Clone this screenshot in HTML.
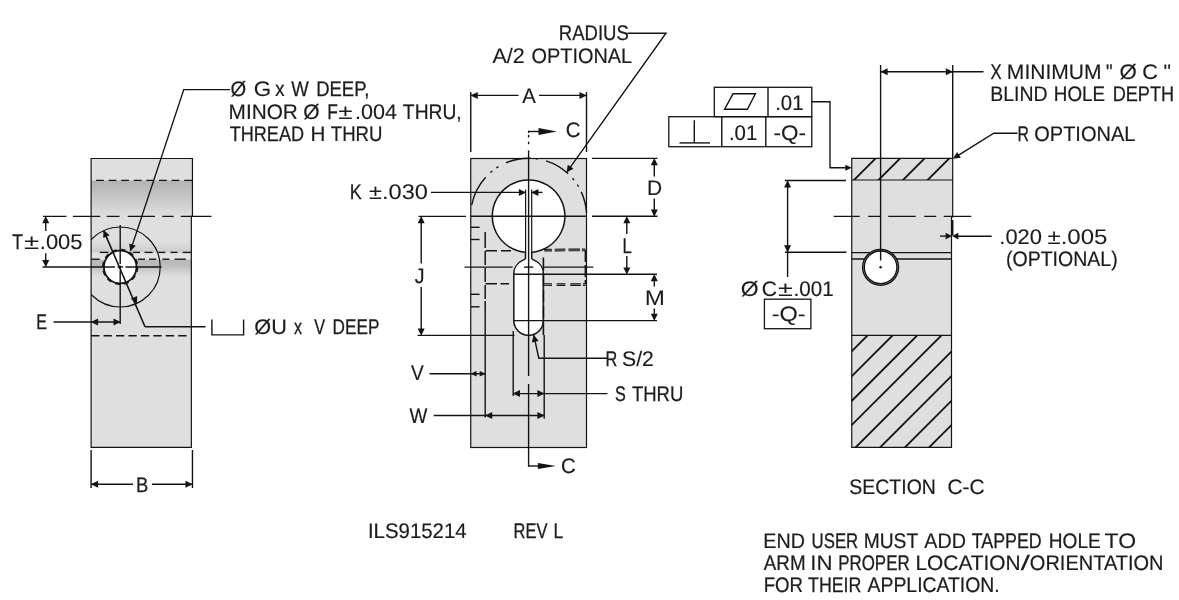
<!DOCTYPE html>
<html lang="en">
<head>
<meta charset="utf-8">
<title>ILS915214 REV L</title>
<style>
html,body{margin:0;padding:0;background:#ffffff;}
body{width:1179px;height:600px;overflow:hidden;}
svg{display:block;font-family:"Liberation Sans",sans-serif;font-size:21.1px;filter:grayscale(1);}
text{fill:#1c1c1c;stroke:#1c1c1c;stroke-width:0.2px;white-space:pre;text-rendering:geometricPrecision;}
</style>
</head>
<body>
<svg width="1179" height="600" viewBox="0 0 1179 600">
<defs>

<linearGradient id="g1" x1="0" y1="0" x2="0" y2="1">
 <stop offset="0" stop-color="#b2b2b2"/>
 <stop offset="0.25" stop-color="#bcbcbc"/>
 <stop offset="1" stop-color="#dfdfdf"/>
</linearGradient>
<linearGradient id="g2" x1="0" y1="0" x2="0" y2="1">
 <stop offset="0.000" stop-color="#dfdfdf"/>
 <stop offset="0.111" stop-color="#dcdcdc"/>
 <stop offset="0.319" stop-color="#cdcdcd"/>
 <stop offset="0.361" stop-color="#e0e0e0"/>
 <stop offset="0.528" stop-color="#e5e5e5"/>
 <stop offset="0.569" stop-color="#b8b8b8"/>
 <stop offset="0.722" stop-color="#bebebe"/>
 <stop offset="1.000" stop-color="#dfdfdf"/>
</linearGradient>
<clipPath id="cl"><rect x="91.1" y="158.5" width="100.25" height="288.8"/></clipPath>
<clipPath id="chT"><rect x="851.75" y="158.4" width="100.95" height="21.6"/></clipPath>
<clipPath id="chB"><rect x="851.75" y="335.3" width="99.75" height="112.1"/></clipPath>

</defs>
<rect x="0" y="0" width="1179" height="600" fill="#ffffff"/>
<path d="M 91.1 158.5 L 192.45 158.5 L 192.45 216.3 L 191.35 216.3 L 191.35 447.3 L 91.1 447.3 Z" fill="#dfdfdf"/>
<rect x="91.1" y="180.5" width="101.35" height="35.5" fill="url(#g1)"/>
<rect x="91.1" y="240" width="100.25" height="36" fill="url(#g2)"/>
<circle cx="120.2" cy="267.0" r="40" fill="none" stroke="#141414" stroke-width="1.2" clip-path="url(#cl)"/>
<line x1="96.00" y1="180.40" x2="192.45" y2="180.40" stroke="#141414" stroke-width="1.4" stroke-dasharray="7.8 4.8"/>
<line x1="99.80" y1="252.40" x2="108.40" y2="252.40" stroke="#141414" stroke-width="1.35"/>
<line x1="132.80" y1="252.40" x2="140.00" y2="252.40" stroke="#141414" stroke-width="1.35"/>
<line x1="144.50" y1="252.40" x2="152.70" y2="252.40" stroke="#141414" stroke-width="1.35"/>
<line x1="158.30" y1="252.40" x2="165.40" y2="252.40" stroke="#141414" stroke-width="1.35"/>
<line x1="170.50" y1="252.40" x2="177.60" y2="252.40" stroke="#141414" stroke-width="1.35"/>
<line x1="182.70" y1="252.40" x2="191.40" y2="252.40" stroke="#141414" stroke-width="1.35"/>
<line x1="91.10" y1="259.20" x2="99.80" y2="259.20" stroke="#141414" stroke-width="1.35"/>
<line x1="138.00" y1="259.20" x2="145.00" y2="259.20" stroke="#141414" stroke-width="1.35"/>
<line x1="149.00" y1="259.20" x2="156.20" y2="259.20" stroke="#141414" stroke-width="1.35"/>
<line x1="162.40" y1="259.20" x2="169.50" y2="259.20" stroke="#141414" stroke-width="1.35"/>
<line x1="174.60" y1="259.20" x2="185.80" y2="259.20" stroke="#141414" stroke-width="1.35"/>
<line x1="91.10" y1="335.70" x2="187.00" y2="335.70" stroke="#141414" stroke-width="1.35" stroke-dasharray="8.3 4.15"/>
<circle cx="120.2" cy="267.0" r="16.3" fill="#ffffff" stroke="#141414" stroke-width="1.8"/>
<circle cx="120.2" cy="267.0" r="17.4" fill="none" stroke="#141414" stroke-width="1.5" stroke-dasharray="5 4.11"/>
<path d="M 91.1 158.5 L 192.45 158.5 L 192.45 216.3 L 191.35 216.3 L 191.35 447.3 L 91.1 447.3 Z" fill="none" stroke="#141414" stroke-width="1.2"/>
<line x1="43.10" y1="216.40" x2="211.50" y2="216.40" stroke="#141414" stroke-width="1.4" stroke-dasharray="23.3 6.5 27.4 6.4 12.9 8.1 27.3 7.3 11.3 7.2 31 0"/>
<line x1="42.50" y1="267.00" x2="115.00" y2="267.00" stroke="#141414" stroke-width="1.4"/>
<line x1="117.50" y1="267.00" x2="123.00" y2="267.00" stroke="#141414" stroke-width="1.4"/>
<line x1="125.50" y1="267.00" x2="161.50" y2="267.00" stroke="#141414" stroke-width="1.4"/>
<line x1="120.20" y1="225.00" x2="120.20" y2="264.00" stroke="#141414" stroke-width="1.4"/>
<line x1="120.20" y1="265.50" x2="120.20" y2="269.00" stroke="#141414" stroke-width="1.4"/>
<line x1="120.20" y1="270.50" x2="120.20" y2="324.00" stroke="#141414" stroke-width="1.4"/>
<line x1="103.67" y1="230.58" x2="145.00" y2="326.75" stroke="#141414" stroke-width="1.6"/>
<line x1="145.00" y1="326.75" x2="205.50" y2="326.75" stroke="#141414" stroke-width="1.4"/>
<polygon points="103.47,230.12 109.63,235.23 103.25,238.12" fill="#141414"/>
<polygon points="136.93,303.88 130.77,298.77 137.15,295.88" fill="#141414"/>
<polyline points="230.00,89.60 183.75,89.60 130.40,250.90" fill="none" stroke="#141414" stroke-width="1.4" stroke-linejoin="miter"/>
<polygon points="130.24,251.37 129.18,243.44 135.83,245.64" fill="#141414"/>
<line x1="45.75" y1="218.00" x2="45.75" y2="231.00" stroke="#141414" stroke-width="1.4"/>
<line x1="45.75" y1="253.20" x2="45.75" y2="265.50" stroke="#141414" stroke-width="1.4"/>
<polygon points="45.75,216.10 49.25,223.30 42.25,223.30" fill="#141414"/>
<polygon points="45.75,267.30 42.25,260.10 49.25,260.10" fill="#141414"/>
<line x1="53.50" y1="322.00" x2="120.00" y2="322.00" stroke="#141414" stroke-width="1.4"/>
<polygon points="90.90,322.00 98.10,318.50 98.10,325.50" fill="#141414"/>
<polygon points="120.70,322.00 113.50,325.50 113.50,318.50" fill="#141414"/>
<line x1="91.10" y1="450.00" x2="91.10" y2="488.00" stroke="#141414" stroke-width="1.4"/>
<line x1="192.45" y1="450.00" x2="192.45" y2="488.00" stroke="#141414" stroke-width="1.4"/>
<line x1="91.10" y1="484.30" x2="133.00" y2="484.30" stroke="#141414" stroke-width="1.4"/>
<line x1="152.00" y1="484.30" x2="192.45" y2="484.30" stroke="#141414" stroke-width="1.4"/>
<polygon points="90.90,484.30 98.10,480.80 98.10,487.80" fill="#141414"/>
<polygon points="192.65,484.30 185.45,487.80 185.45,480.80" fill="#141414"/>
<polyline points="211.90,319.50 211.90,334.90 243.60,334.90 243.60,319.50" fill="none" stroke="#141414" stroke-width="1.4" stroke-linejoin="miter"/>
<rect x="470.75" y="158.5" width="115.75" height="289.0" fill="#dfdfdf" stroke="#141414" stroke-width="1.2"/>
<path d="M 531.70 252.37 A 36.3 36.3 0 1 0 525.50 252.37 L 525.50 258.2 Q 525.00 259.6 522.50 260.4 A 14.8 14.8 0 0 0 513.80 274.30 L 513.80 320.60 A 14.8 14.8 0 0 0 543.40 320.60 L 543.40 274.30 A 14.8 14.8 0 0 0 534.70 260.4 Q 532.20 259.6 531.70 258.2 Z" fill="#ffffff" stroke="#141414" stroke-width="1.5" stroke-linejoin="round"/>
<path d="M 471.67 205.13 A 58 58 0 0 1 485.70 177.17" fill="none" stroke="#141414" stroke-width="1.4"/>
<path d="M 490.40 172.56 A 58 58 0 0 1 492.26 171.00" fill="none" stroke="#141414" stroke-width="1.4"/>
<path d="M 496.33 168.00 A 58 58 0 0 1 498.38 166.69" fill="none" stroke="#141414" stroke-width="1.4"/>
<path d="M 505.94 162.81 A 58 58 0 0 1 530.62 158.24" fill="none" stroke="#141414" stroke-width="1.4"/>
<path d="M 535.47 158.61 A 58 58 0 0 1 537.87 158.95" fill="none" stroke="#141414" stroke-width="1.4"/>
<path d="M 546.04 160.88 A 58 58 0 0 1 568.16 173.78" fill="none" stroke="#141414" stroke-width="1.4"/>
<path d="M 572.51 178.30 A 58 58 0 0 1 574.05 180.17" fill="none" stroke="#141414" stroke-width="1.4"/>
<path d="M 577.30 184.70 A 58 58 0 0 1 578.57 186.76" fill="none" stroke="#141414" stroke-width="1.4"/>
<path d="M 581.25 191.87 A 58 58 0 0 1 586.46 212.15" fill="none" stroke="#141414" stroke-width="1.4"/>
<line x1="525.60" y1="189.50" x2="525.60" y2="252.50" stroke="#141414" stroke-width="1.2"/>
<line x1="531.70" y1="189.50" x2="531.70" y2="252.50" stroke="#141414" stroke-width="1.2"/>
<line x1="528.60" y1="159.00" x2="528.60" y2="376.00" stroke="#141414" stroke-width="1.4"/>
<line x1="528.60" y1="384.00" x2="528.60" y2="466.60" stroke="#141414" stroke-width="1.4"/>
<line x1="528.60" y1="130.80" x2="528.60" y2="133.00" stroke="#141414" stroke-width="1.4"/>
<line x1="528.60" y1="134.80" x2="528.60" y2="137.50" stroke="#141414" stroke-width="1.4"/>
<line x1="528.60" y1="141.70" x2="528.60" y2="144.20" stroke="#141414" stroke-width="1.4"/>
<line x1="528.60" y1="150.40" x2="528.60" y2="159.00" stroke="#141414" stroke-width="1.4"/>
<line x1="528.00" y1="131.50" x2="541.00" y2="131.50" stroke="#141414" stroke-width="1.4"/>
<polygon points="556.80,131.50 538.50,135.00 538.50,128.00" fill="#141414"/>
<line x1="528.00" y1="466.00" x2="539.00" y2="466.00" stroke="#141414" stroke-width="1.4"/>
<polygon points="555.90,466.00 537.90,469.00 537.90,463.00" fill="#141414"/>
<line x1="418.50" y1="216.40" x2="466.00" y2="216.40" stroke="#141414" stroke-width="1.4"/>
<line x1="470.75" y1="216.20" x2="586.50" y2="216.20" stroke="#141414" stroke-width="1.4"/>
<line x1="592.00" y1="216.30" x2="657.50" y2="216.30" stroke="#141414" stroke-width="1.4"/>
<line x1="464.50" y1="267.10" x2="512.60" y2="267.10" stroke="#141414" stroke-width="1.4"/>
<line x1="524.00" y1="267.10" x2="533.30" y2="267.10" stroke="#141414" stroke-width="1.4"/>
<line x1="543.80" y1="267.10" x2="593.40" y2="267.10" stroke="#141414" stroke-width="1.4"/>
<line x1="513.80" y1="274.30" x2="657.00" y2="274.30" stroke="#141414" stroke-width="1.4"/>
<line x1="513.80" y1="320.60" x2="657.00" y2="320.60" stroke="#141414" stroke-width="1.4"/>
<line x1="470.75" y1="227.30" x2="479.60" y2="227.30" stroke="#141414" stroke-width="1.4"/>
<line x1="470.75" y1="239.50" x2="479.60" y2="239.50" stroke="#141414" stroke-width="1.4"/>
<line x1="470.75" y1="294.30" x2="479.60" y2="294.30" stroke="#141414" stroke-width="1.4"/>
<line x1="470.75" y1="306.80" x2="479.60" y2="306.80" stroke="#141414" stroke-width="1.4"/>
<line x1="485.20" y1="232.00" x2="485.20" y2="310.00" stroke="#141414" stroke-width="1.5" stroke-dasharray="16 3 14 3 14 3 14 2 20 0"/>
<line x1="485.20" y1="310.00" x2="485.20" y2="417.50" stroke="#141414" stroke-width="1.4"/>
<line x1="485.60" y1="250.80" x2="511.00" y2="250.80" stroke="#141414" stroke-width="1.6" stroke-dasharray="11.4 4 10 0"/>
<line x1="485.60" y1="283.80" x2="509.00" y2="283.80" stroke="#141414" stroke-width="1.6" stroke-dasharray="11.4 3.5 9 0"/>
<line x1="544.20" y1="249.30" x2="585.50" y2="249.10" stroke="#141414" stroke-width="1.15" stroke-dasharray="7.8 2.7 10.6 3.2 11.5 1.8 4 0"/>
<line x1="544.20" y1="250.90" x2="585.50" y2="250.70" stroke="#141414" stroke-width="1.15" stroke-dasharray="7.8 2.7 10.6 3.2 11.5 1.8 4 0"/>
<line x1="543.70" y1="283.70" x2="585.50" y2="283.90" stroke="#141414" stroke-width="1.15" stroke-dasharray="8.3 4.6 8.7 5 10.6 2 3 0"/>
<line x1="543.70" y1="285.30" x2="585.50" y2="285.50" stroke="#141414" stroke-width="1.15" stroke-dasharray="8.3 4.6 8.7 5 10.6 2 3 0"/>
<line x1="543.40" y1="257.50" x2="543.40" y2="335.00" stroke="#141414" stroke-width="1.6" stroke-dasharray="13 3 13 3 13 3 13 3 20 0"/>
<line x1="544.20" y1="335.00" x2="544.20" y2="418.70" stroke="#141414" stroke-width="1.4"/>
<line x1="585.30" y1="250.00" x2="585.30" y2="284.00" stroke="#141414" stroke-width="1.4" stroke-dasharray="12 3"/>
<line x1="513.20" y1="331.00" x2="513.20" y2="396.00" stroke="#141414" stroke-width="1.4"/>
<line x1="470.75" y1="92.00" x2="470.75" y2="152.00" stroke="#141414" stroke-width="1.4"/>
<line x1="586.50" y1="92.00" x2="586.50" y2="152.00" stroke="#141414" stroke-width="1.4"/>
<line x1="470.75" y1="95.40" x2="518.50" y2="95.40" stroke="#141414" stroke-width="1.4"/>
<line x1="539.00" y1="95.40" x2="586.50" y2="95.40" stroke="#141414" stroke-width="1.4"/>
<polygon points="470.55,95.40 477.75,91.90 477.75,98.90" fill="#141414"/>
<polygon points="586.70,95.40 579.50,98.90 579.50,91.90" fill="#141414"/>
<polyline points="627.50,33.20 666.00,33.20 566.80,172.20" fill="none" stroke="#141414" stroke-width="1.4" stroke-linejoin="miter"/>
<polygon points="566.51,172.61 567.84,164.71 573.54,168.78" fill="#141414"/>
<line x1="431.00" y1="192.40" x2="525.00" y2="192.40" stroke="#141414" stroke-width="1.4"/>
<polygon points="526.10,192.40 518.90,195.90 518.90,188.90" fill="#141414"/>
<polygon points="531.20,192.40 538.40,188.90 538.40,195.90" fill="#141414"/>
<line x1="531.70" y1="192.40" x2="542.50" y2="192.40" stroke="#141414" stroke-width="1.4"/>
<line x1="421.20" y1="218.00" x2="421.20" y2="263.50" stroke="#141414" stroke-width="1.4"/>
<line x1="421.20" y1="287.00" x2="421.20" y2="334.00" stroke="#141414" stroke-width="1.4"/>
<polygon points="421.20,216.10 424.70,223.30 417.70,223.30" fill="#141414"/>
<polygon points="421.20,335.80 417.70,328.60 424.70,328.60" fill="#141414"/>
<line x1="417.50" y1="335.40" x2="514.50" y2="335.40" stroke="#141414" stroke-width="1.4"/>
<line x1="592.00" y1="158.40" x2="657.50" y2="158.40" stroke="#141414" stroke-width="1.4"/>
<line x1="654.30" y1="160.00" x2="654.30" y2="176.50" stroke="#141414" stroke-width="1.4"/>
<line x1="654.30" y1="198.50" x2="654.30" y2="215.00" stroke="#141414" stroke-width="1.4"/>
<polygon points="654.30,158.10 657.80,165.30 650.80,165.30" fill="#141414"/>
<polygon points="654.30,216.60 650.80,209.40 657.80,209.40" fill="#141414"/>
<line x1="626.80" y1="218.00" x2="626.80" y2="234.00" stroke="#141414" stroke-width="1.4"/>
<line x1="626.80" y1="256.00" x2="626.80" y2="272.50" stroke="#141414" stroke-width="1.4"/>
<polygon points="626.80,216.00 630.30,223.20 623.30,223.20" fill="#141414"/>
<polygon points="626.80,274.60 623.30,267.40 630.30,267.40" fill="#141414"/>
<line x1="654.30" y1="276.00" x2="654.30" y2="286.50" stroke="#141414" stroke-width="1.4"/>
<line x1="654.30" y1="308.50" x2="654.30" y2="319.00" stroke="#141414" stroke-width="1.4"/>
<polygon points="654.30,274.00 657.80,281.20 650.80,281.20" fill="#141414"/>
<polygon points="654.30,320.90 650.80,313.70 657.80,313.70" fill="#141414"/>
<polyline points="533.80,335.20 538.80,358.20 607.00,358.20" fill="none" stroke="#141414" stroke-width="1.4" stroke-linejoin="miter"/>
<polygon points="533.69,334.71 538.64,341.00 531.80,342.49" fill="#141414"/>
<line x1="513.80" y1="393.60" x2="607.50" y2="393.60" stroke="#141414" stroke-width="1.4"/>
<polygon points="512.80,393.60 520.00,390.10 520.00,397.10" fill="#141414"/>
<polygon points="544.60,393.60 537.40,397.10 537.40,390.10" fill="#141414"/>
<line x1="429.50" y1="373.70" x2="485.00" y2="373.70" stroke="#141414" stroke-width="1.4"/>
<polygon points="470.55,373.70 476.55,370.90 476.55,376.50" fill="#141414"/>
<polygon points="485.70,373.70 479.70,376.50 479.70,370.90" fill="#141414"/>
<line x1="433.70" y1="415.50" x2="544.00" y2="415.50" stroke="#141414" stroke-width="1.4"/>
<polygon points="485.00,415.50 492.20,412.00 492.20,419.00" fill="#141414"/>
<polygon points="544.60,415.50 537.40,419.00 537.40,412.00" fill="#141414"/>
<path d="M 851.75 158.4 L 952.7 158.4 L 952.7 217 L 951.5 217 L 951.5 447.4 L 851.75 447.4 Z" fill="#dfdfdf"/>
<line x1="844.00" y1="190" x2="884.00" y2="150" stroke="#141414" stroke-width="1.85" clip-path="url(#chT)"/>
<line x1="868.50" y1="190" x2="908.50" y2="150" stroke="#141414" stroke-width="1.85" clip-path="url(#chT)"/>
<line x1="893.00" y1="190" x2="933.00" y2="150" stroke="#141414" stroke-width="1.85" clip-path="url(#chT)"/>
<line x1="917.60" y1="190" x2="957.60" y2="150" stroke="#141414" stroke-width="1.85" clip-path="url(#chT)"/>
<line x1="743.00" y1="460" x2="883.00" y2="320" stroke="#141414" stroke-width="1.85" clip-path="url(#chB)"/>
<line x1="768.00" y1="460" x2="908.00" y2="320" stroke="#141414" stroke-width="1.85" clip-path="url(#chB)"/>
<line x1="792.60" y1="460" x2="932.60" y2="320" stroke="#141414" stroke-width="1.85" clip-path="url(#chB)"/>
<line x1="816.80" y1="460" x2="956.80" y2="320" stroke="#141414" stroke-width="1.85" clip-path="url(#chB)"/>
<line x1="843.00" y1="460" x2="983.00" y2="320" stroke="#141414" stroke-width="1.85" clip-path="url(#chB)"/>
<line x1="867.50" y1="460" x2="1007.50" y2="320" stroke="#141414" stroke-width="1.85" clip-path="url(#chB)"/>
<line x1="892.30" y1="460" x2="1032.30" y2="320" stroke="#141414" stroke-width="1.85" clip-path="url(#chB)"/>
<line x1="916.50" y1="460" x2="1056.50" y2="320" stroke="#141414" stroke-width="1.85" clip-path="url(#chB)"/>
<line x1="851.75" y1="180.00" x2="952.70" y2="180.00" stroke="#141414" stroke-width="1.2"/>
<line x1="851.75" y1="335.30" x2="951.50" y2="335.30" stroke="#141414" stroke-width="1.2"/>
<line x1="851.75" y1="252.60" x2="951.50" y2="252.60" stroke="#141414" stroke-width="1.4"/>
<line x1="851.75" y1="259.00" x2="951.50" y2="259.00" stroke="#141414" stroke-width="1.4"/>
<path d="M 851.75 158.4 L 952.7 158.4 L 952.7 217 M 951.5 217 L 951.5 447.4 L 851.75 447.4 L 851.75 158.4" fill="none" stroke="#141414" stroke-width="1.2" stroke-linecap="square"/>
<line x1="952.30" y1="220.00" x2="952.30" y2="235.50" stroke="#141414" stroke-width="2.3"/>
<circle cx="880.6" cy="267.3" r="18.0" fill="#8a8a8a" stroke="#141414" stroke-width="1.3"/>
<circle cx="880.6" cy="267.3" r="16.3" fill="#ffffff" stroke="#141414" stroke-width="1.3"/>
<circle cx="880.6" cy="267.3" r="1.2" fill="#141414"/>
<line x1="880.60" y1="65.00" x2="880.60" y2="260.50" stroke="#141414" stroke-width="1.4"/>
<line x1="952.70" y1="65.00" x2="952.70" y2="158.00" stroke="#141414" stroke-width="1.4"/>
<line x1="880.60" y1="71.70" x2="983.50" y2="71.70" stroke="#141414" stroke-width="1.4"/>
<polygon points="880.40,71.70 887.60,68.20 887.60,75.20" fill="#141414"/>
<polygon points="953.00,71.70 945.80,75.20 945.80,68.20" fill="#141414"/>
<polyline points="955.00,157.30 993.80,133.20 1017.50,133.20" fill="none" stroke="#141414" stroke-width="1.4" stroke-linejoin="miter"/>
<polygon points="952.88,158.66 957.14,151.89 960.84,157.84" fill="#141414"/>
<line x1="833.70" y1="216.40" x2="971.30" y2="216.40" stroke="#141414" stroke-width="1.4" stroke-dasharray="26 8.5 12 8 27.5 8.5 12 7.5 28 0"/>
<line x1="940.00" y1="236.10" x2="946.00" y2="236.10" stroke="#141414" stroke-width="1.4"/>
<polygon points="951.90,236.10 945.60,239.40 945.60,232.80" fill="#141414"/>
<polygon points="952.10,236.10 958.40,232.80 958.40,239.40" fill="#141414"/>
<line x1="958.00" y1="236.30" x2="991.70" y2="236.30" stroke="#141414" stroke-width="1.4"/>
<rect x="714.3" y="87.3" width="97.5" height="29.4" fill="none" stroke="#141414" stroke-width="1.3"/>
<rect x="668.8" y="116.7" width="143" height="30" fill="none" stroke="#141414" stroke-width="1.3"/>
<line x1="768.00" y1="87.30" x2="768.00" y2="116.70" stroke="#141414" stroke-width="1.4"/>
<line x1="721.80" y1="116.70" x2="721.80" y2="146.70" stroke="#141414" stroke-width="1.4"/>
<line x1="765.80" y1="116.70" x2="765.80" y2="146.70" stroke="#141414" stroke-width="1.4"/>
<polygon points="724.60,109.20 747.40,109.20 755.40,93.80 733.00,93.80" fill="none" stroke="#141414" stroke-width="1.4" stroke-linejoin="miter"/>
<line x1="679.50" y1="142.90" x2="710.00" y2="142.90" stroke="#141414" stroke-width="1.4"/>
<line x1="694.30" y1="120.30" x2="694.30" y2="142.90" stroke="#141414" stroke-width="1.4"/>
<polyline points="811.80,101.80 830.00,101.80 830.00,167.70 846.00,167.70" fill="none" stroke="#141414" stroke-width="1.4" stroke-linejoin="miter"/>
<polygon points="851.80,167.70 845.30,170.70 845.30,164.70" fill="#141414"/>
<line x1="785.00" y1="180.50" x2="846.00" y2="180.50" stroke="#141414" stroke-width="1.4"/>
<line x1="785.00" y1="252.20" x2="846.50" y2="252.20" stroke="#141414" stroke-width="1.4"/>
<line x1="787.60" y1="182.00" x2="787.60" y2="277.00" stroke="#141414" stroke-width="1.4"/>
<polygon points="787.60,180.20 791.10,187.40 784.10,187.40" fill="#141414"/>
<polygon points="787.60,252.50 784.10,245.30 791.10,245.30" fill="#141414"/>
<rect x="764.4" y="299.2" width="46.5" height="29.5" fill="none" stroke="#141414" stroke-width="1.3"/>
<text y="96.00"><tspan x="230.50" textLength="15.68" lengthAdjust="spacingAndGlyphs" stroke-width="0.19">Ø</tspan> <tspan x="253.78" textLength="17.40" lengthAdjust="spacingAndGlyphs" stroke-width="0.10">G</tspan> <tspan x="275.19" textLength="9.31" lengthAdjust="spacingAndGlyphs" stroke-width="0.24">x</tspan> <tspan x="291.22" textLength="17.55" lengthAdjust="spacingAndGlyphs" stroke-width="0.25">W</tspan> <tspan x="316.15" textLength="53.14" lengthAdjust="spacingAndGlyphs" stroke-width="0.28">DEEP,</tspan></text>
<text y="119.00"><tspan x="228.60" textLength="69.27" lengthAdjust="spacingAndGlyphs" stroke-width="0.16">MINOR</tspan> <tspan x="303.17" textLength="16.34" lengthAdjust="spacingAndGlyphs" stroke-width="0.15">Ø</tspan> <tspan x="327.27" textLength="10.62" lengthAdjust="spacingAndGlyphs" stroke-width="0.29">F</tspan><tspan x="338.27" textLength="14.35" lengthAdjust="spacingAndGlyphs" stroke-width="0.00">±</tspan><tspan x="354.93" textLength="42.00" lengthAdjust="spacingAndGlyphs" stroke-width="0.13">.004</tspan> <tspan x="402.87" textLength="58.86" lengthAdjust="spacingAndGlyphs" stroke-width="0.22">THRU,</tspan></text>
<text y="141.00"><tspan x="229.69" textLength="74.37" lengthAdjust="spacingAndGlyphs" stroke-width="0.26">THREAD</tspan> <tspan x="310.41" textLength="14.87" lengthAdjust="spacingAndGlyphs" stroke-width="0.17">H</tspan> <tspan x="330.78" textLength="51.65" lengthAdjust="spacingAndGlyphs" stroke-width="0.24">THRU</tspan></text>
<text y="249.00"><tspan x="12.21" textLength="10.70" lengthAdjust="spacingAndGlyphs" stroke-width="0.29">T</tspan><tspan x="23.92" textLength="15.25" lengthAdjust="spacingAndGlyphs" stroke-width="0.00">±</tspan><tspan x="39.80" textLength="42.73" lengthAdjust="spacingAndGlyphs" stroke-width="0.12">.005</tspan></text>
<text y="329.00"><tspan x="36.28" textLength="10.71" lengthAdjust="spacingAndGlyphs" stroke-width="0.34">E</tspan></text>
<text y="492.00"><tspan x="136.09" textLength="12.28" lengthAdjust="spacingAndGlyphs" stroke-width="0.25">B</tspan></text>
<text y="334.00"><tspan x="254.35" textLength="32.52" lengthAdjust="spacingAndGlyphs" stroke-width="0.13">ØU</tspan> <tspan x="294.12" textLength="8.05" lengthAdjust="spacingAndGlyphs" stroke-width="0.34">x</tspan>  <tspan x="314.13" textLength="10.84" lengthAdjust="spacingAndGlyphs" stroke-width="0.33">V</tspan> <tspan x="332.59" textLength="46.82" lengthAdjust="spacingAndGlyphs" stroke-width="0.30">DEEP</tspan></text>
<text y="40.00"><tspan x="558.78" textLength="70.07" lengthAdjust="spacingAndGlyphs" stroke-width="0.25">RADIUS</tspan></text>
<text y="63.00"><tspan x="492.46" textLength="32.33" lengthAdjust="spacingAndGlyphs" stroke-width="0.13">A/2</tspan> <tspan x="531.56" textLength="100.60" lengthAdjust="spacingAndGlyphs" stroke-width="0.20">OPTIONAL</tspan></text>
<text y="103.00"><tspan x="522.26" textLength="13.58" lengthAdjust="spacingAndGlyphs" stroke-width="0.18">A</tspan></text>
<text y="137.00"><tspan x="565.67" textLength="14.71" lengthAdjust="spacingAndGlyphs" stroke-width="0.18">C</tspan></text>
<text y="473.00"><tspan x="561.07" textLength="14.71" lengthAdjust="spacingAndGlyphs" stroke-width="0.18">C</tspan></text>
<text y="199.00"><tspan x="349.63" textLength="11.97" lengthAdjust="spacingAndGlyphs" stroke-width="0.27">K</tspan> <tspan x="369.05" textLength="58.87" lengthAdjust="spacingAndGlyphs" stroke-width="0.06">±.030</tspan></text>
<text y="283.00"><tspan x="414.70" textLength="9.75" lengthAdjust="spacingAndGlyphs" stroke-width="0.21">J</tspan></text>
<text y="195.00"><tspan x="647.08" textLength="15.12" lengthAdjust="spacingAndGlyphs" stroke-width="0.16">D</tspan></text>
<text y="253.00"><tspan x="622.42" textLength="9.33" lengthAdjust="spacingAndGlyphs" stroke-width="0.31">L</tspan></text>
<text y="305.00"><tspan x="644.81" textLength="20.17" lengthAdjust="spacingAndGlyphs" stroke-width="0.03">M</tspan></text>
<text y="366.00"><tspan x="605.56" textLength="11.80" lengthAdjust="spacingAndGlyphs" stroke-width="0.33">R</tspan> <tspan x="622.04" textLength="31.83" lengthAdjust="spacingAndGlyphs" stroke-width="0.15">S/2</tspan></text>
<text y="401.00"><tspan x="615.07" textLength="10.78" lengthAdjust="spacingAndGlyphs" stroke-width="0.34">S</tspan> <tspan x="631.88" textLength="51.45" lengthAdjust="spacingAndGlyphs" stroke-width="0.25">THRU</tspan></text>
<text y="380.00"><tspan x="411.12" textLength="12.77" lengthAdjust="spacingAndGlyphs" stroke-width="0.22">V</tspan></text>
<text y="423.00"><tspan x="409.42" textLength="17.85" lengthAdjust="spacingAndGlyphs" stroke-width="0.23">W</tspan></text>
<text y="538.00"><tspan x="367.92" textLength="98.78" lengthAdjust="spacingAndGlyphs" stroke-width="0.18">ILS915214</tspan>   <tspan x="513.55" textLength="33.82" lengthAdjust="spacingAndGlyphs" stroke-width="0.33">REV</tspan> <tspan x="553.57" textLength="9.71" lengthAdjust="spacingAndGlyphs" stroke-width="0.29">L</tspan></text>
<text y="79.00"><tspan x="990.43" textLength="11.12" lengthAdjust="spacingAndGlyphs" stroke-width="0.32">X</tspan> <tspan x="1006.87" textLength="94.65" lengthAdjust="spacingAndGlyphs" stroke-width="0.15">MINIMUM</tspan> <tspan x="1106.01" textLength="6.57" lengthAdjust="spacingAndGlyphs" stroke-width="0.25">"</tspan> <tspan x="1119.43" textLength="17.32" lengthAdjust="spacingAndGlyphs" stroke-width="0.11">Ø</tspan> <tspan x="1142.20" textLength="15.62" lengthAdjust="spacingAndGlyphs" stroke-width="0.13">C</tspan> <tspan x="1163.50" textLength="7.49" lengthAdjust="spacingAndGlyphs" stroke-width="0.15">"</tspan></text>
<text y="101.00"><tspan x="990.30" textLength="57.33" lengthAdjust="spacingAndGlyphs" stroke-width="0.21">BLIND</tspan> <tspan x="1053.86" textLength="51.25" lengthAdjust="spacingAndGlyphs" stroke-width="0.24">HOLE</tspan> <tspan x="1112.71" textLength="61.36" lengthAdjust="spacingAndGlyphs" stroke-width="0.26">DEPTH</tspan></text>
<text y="141.00"><tspan x="1017.40" textLength="11.43" lengthAdjust="spacingAndGlyphs" stroke-width="0.35">R</tspan> <tspan x="1034.25" textLength="101.11" lengthAdjust="spacingAndGlyphs" stroke-width="0.19">OPTIONAL</tspan></text>
<text y="244.00"><tspan x="999.30" textLength="42.66" lengthAdjust="spacingAndGlyphs" stroke-width="0.12">.020</tspan> <tspan x="1047.44" textLength="59.97" lengthAdjust="spacingAndGlyphs" stroke-width="0.04">±.005</tspan></text>
<text y="266.00"><tspan x="1005.99" textLength="111.72" lengthAdjust="spacingAndGlyphs" stroke-width="0.21">(OPTIONAL)</tspan></text>
<text y="110.00"><tspan x="775.14" textLength="28.36" lengthAdjust="spacingAndGlyphs" stroke-width="0.18">.01</tspan></text>
<text y="140.00"><tspan x="728.94" textLength="28.36" lengthAdjust="spacingAndGlyphs" stroke-width="0.18">.01</tspan></text>
<text y="140.00"><tspan x="773.50" textLength="32.50" lengthAdjust="spacingAndGlyphs" stroke-width="0.10">-Q-</tspan></text>
<text y="296.00"><tspan x="740.80" textLength="17.87" lengthAdjust="spacingAndGlyphs" stroke-width="0.08">Ø</tspan><tspan x="761.63" textLength="15.17" lengthAdjust="spacingAndGlyphs" stroke-width="0.15">C</tspan><tspan x="778.04" textLength="14.80" lengthAdjust="spacingAndGlyphs" stroke-width="0.00">±</tspan><tspan x="793.62" textLength="40.09" lengthAdjust="spacingAndGlyphs" stroke-width="0.17">.001</tspan></text>
<text y="321.00"><tspan x="771.65" textLength="33.99" lengthAdjust="spacingAndGlyphs" stroke-width="0.06">-Q-</tspan></text>
<text y="494.00"><tspan x="849.32" textLength="86.57" lengthAdjust="spacingAndGlyphs" stroke-width="0.21">SECTION</tspan>  <tspan x="947.54" textLength="37.05" lengthAdjust="spacingAndGlyphs" stroke-width="0.16">C-C</tspan></text>
<text y="548.00"><tspan x="763.28" textLength="41.66" lengthAdjust="spacingAndGlyphs" stroke-width="0.20">END</tspan> <tspan x="811.61" textLength="46.57" lengthAdjust="spacingAndGlyphs" stroke-width="0.31">USER</tspan> <tspan x="863.73" textLength="54.10" lengthAdjust="spacingAndGlyphs" stroke-width="0.23">MUST</tspan> <tspan x="924.36" textLength="41.68" lengthAdjust="spacingAndGlyphs" stroke-width="0.20">ADD</tspan> <tspan x="971.71" textLength="70.03" lengthAdjust="spacingAndGlyphs" stroke-width="0.29">TAPPED</tspan> <tspan x="1048.83" textLength="51.99" lengthAdjust="spacingAndGlyphs" stroke-width="0.23">HOLE</tspan> <tspan x="1104.59" textLength="31.49" lengthAdjust="spacingAndGlyphs" stroke-width="0.09">TO</tspan></text>
<text y="570.00"><tspan x="763.86" textLength="41.68" lengthAdjust="spacingAndGlyphs" stroke-width="0.24">ARM</tspan> <tspan x="810.24" textLength="22.27" lengthAdjust="spacingAndGlyphs" stroke-width="0.11">IN</tspan> <tspan x="838.21" textLength="71.47" lengthAdjust="spacingAndGlyphs" stroke-width="0.31">PROPER</tspan> <tspan x="915.51" textLength="105.17" lengthAdjust="spacingAndGlyphs" stroke-width="0.17">LOCATION</tspan><tspan x="1020.60" textLength="9.60" lengthAdjust="spacingAndGlyphs" stroke-width="0.00">/</tspan><tspan x="1029.87" textLength="133.62" lengthAdjust="spacingAndGlyphs" stroke-width="0.21">ORIENTATION</tspan></text>
<text y="592.00"><tspan x="763.67" textLength="39.29" lengthAdjust="spacingAndGlyphs" stroke-width="0.24">FOR</tspan> <tspan x="808.00" textLength="53.43" lengthAdjust="spacingAndGlyphs" stroke-width="0.27">THEIR</tspan> <tspan x="867.56" textLength="132.19" lengthAdjust="spacingAndGlyphs" stroke-width="0.22">APPLICATION.</tspan></text>
</svg>
</body>
</html>
